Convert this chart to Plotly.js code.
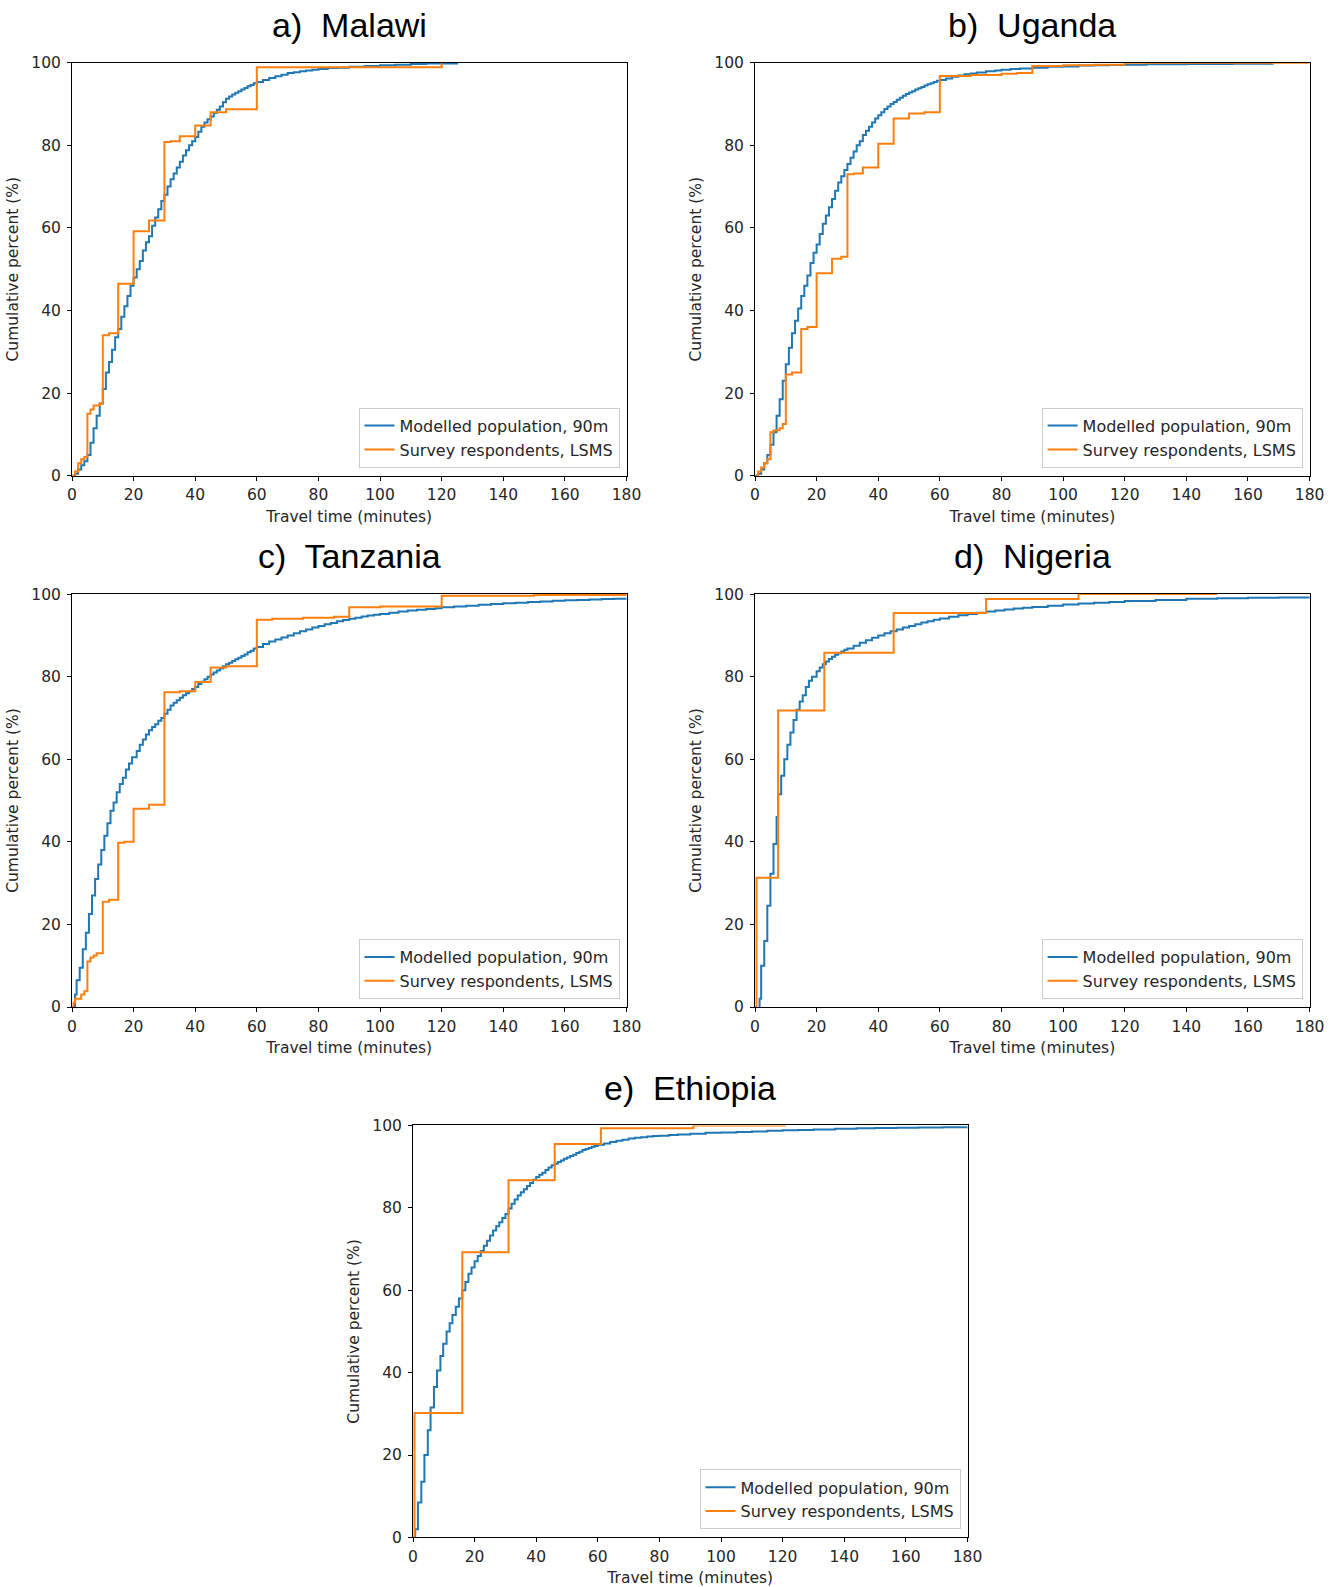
<!DOCTYPE html>
<html>
<head>
<meta charset="utf-8">
<script src="https://cdn.plot.ly/plotly-3.0.1.min.js"></script>
<style>html,body{margin:0;padding:0;background:#fff;}#chart{width:1338px;height:1587px;}</style>
</head>
<body>
<div id="chart"></div>
<script>
// ---------------- Data ----------------
const panelTitles = ["a)  Malawi", "b)  Uganda", "c)  Tanzania", "d)  Nigeria", "e)  Ethiopia"];
const seriesNames = ["Modelled population, 90m", "Survey respondents, LSMS"];
const xTickVals = [0, 20, 40, 60, 80, 100, 120, 140, 160, 180];
const yTickVals = [0, 20, 40, 60, 80, 100];

// Malawi
const malawiModelMin = [0,1,2,3,4,5,6,7,8,9,10,11,12,13,14,15,16,17,18,19,20,21,22,23,24,25,26,27,28,29,30,31,32,33,34,35,36,37,38,39,40,41,42,43,44,45,46,47,48,49,50,51,52,53,54,55,56,57,58,59,60,62,64,66,68,70,72,74,76,78,80,83,86,90,95,100,105,110,115,125];
const malawiModelPct = [0,0.5,1.5,2.5,3.5,5,8,11.5,14.5,17.5,21,25,27.5,30.5,33.5,35.5,38.5,41,43.5,46,48,50,52,54.5,56.5,58,60.5,62.5,64.5,66.5,68,70,71.8,73.2,74.6,76,77.5,78.8,80,81,82,83.3,84.5,85.5,86.3,87,87.8,88.6,89.4,90.4,91.3,91.8,92.3,92.7,93.1,93.5,93.9,94.3,94.6,95,95.3,95.8,96.3,96.7,97.1,97.5,97.7,97.9,98.1,98.3,98.5,98.7,98.8,99,99.2,99.4,99.5,99.7,99.8,99.9];
const malawiSurveyMin = [0,1,2,3,4,5,6,7,9,10,12,15,20,25,30,32,35,40,45,50,60,120];
const malawiSurveyPct = [0,1,3,4,4.5,15,16,17,17.5,34,34.5,46.5,59.2,61.8,80.8,81,82.2,84.8,88,88.7,98.9,100];

// Uganda
const ugandaModelMin = [0,1,2,3,4,5,6,7,8,9,10,11,12,13,14,15,16,17,18,19,20,21,22,23,24,25,26,27,28,29,30,31,32,33,34,35,36,37,38,39,40,41,42,43,44,45,46,47,48,49,50,51,52,53,54,55,56,57,58,59,60,62,64,66,68,70,72,75,78,80,83,86,90,95,100,105,110,115,120,127,140,155,168];
const ugandaModelPct = [0,0.5,1.5,3,5,7.5,10.5,14.5,18.5,23,27,31,34.5,37.5,40.5,43.5,46,48.5,51.5,54,56,58.5,61,63,65,67,69,71,72.5,74,75.5,77,78.5,80,81,82.5,83.5,84.5,85.5,86.5,87.3,88,88.8,89.4,90,90.5,91,91.5,92,92.4,92.8,93.1,93.5,93.8,94.1,94.5,94.8,95,95.3,95.6,95.8,96.2,96.6,96.9,97.2,97.4,97.6,97.9,98.1,98.3,98.5,98.6,98.8,99,99.1,99.3,99.4,99.45,99.5,99.6,99.7,99.75,99.8];
const ugandaSurveyMin = [0,1,2,3,4,5,6,8,9,10,12,15,17,20,25,28,30,32,35,40,45,50,55,60,70,80,85,90,100,110,120,180];
const ugandaSurveyPct = [0,1,2,3,4,10.5,11,11.5,12.5,24.5,25,35.5,36,49,52.5,53,73,73.2,74.6,80.4,86.5,87.7,88,96.8,97,97.3,97.5,99.2,99.4,99.5,100,100];

// Tanzania
const tanzaniaModelMin = [0,1,1.5,2.5,3.5,4.5,5.5,6.5,7.5,8.5,9.5,10.5,11.5,12.5,13.5,14.5,15.5,16.5,17.5,18.5,19.5,21,22,23,24,25,26,27,28,29,30,31,32,33,34,35,36,37,38,39,40,41,42,43,44,45,46,47,48,49,50,51,52,53,54,55,56,57,58,59,60,62,64,66,68,70,72,74,76,78,80,82,84,86,88,90,92,94,96,98,100,103,106,109,112,115,118,120,124,128,132,136,140,144,148,152,156,160,164,168,172,176,180];
const tanzaniaModelPct = [0,3,6.5,9.5,14,18,22.5,27,31,34.5,38,41.5,44.5,47.5,49.5,52,54,55.5,57.5,59,60.5,62,63.5,64.8,66,67,67.8,68.5,69.3,70,71,72,73,73.7,74.3,74.9,75.5,76,76.5,77,77.5,78.2,78.8,79.4,80,80.5,81,81.5,82,82.5,83,83.4,83.8,84.2,84.6,85,85.4,85.9,86.3,86.8,87.2,87.9,88.5,89,89.5,90,90.5,91,91.4,91.9,92.3,92.7,93,93.4,93.7,94,94.3,94.6,94.8,95,95.2,95.5,95.8,96,96.2,96.4,96.6,96.8,97,97.2,97.4,97.6,97.8,97.9,98.1,98.2,98.4,98.5,98.6,98.7,98.8,98.9,99];
const tanzaniaSurveyMin = [0,0.5,1,3,4,5,6,7,8,10,12,15,17,20,25,30,35,40,45,50,60,65,75,85,90,100,120,150,180];
const tanzaniaSurveyPct = [0,1,2,3,3.8,11,12,12.5,13,25.5,26,39.8,40,48,49,76.2,76.5,78.7,82.2,82.5,93.8,94,94.3,94.5,96.8,97,99.6,99.8,100];

// Nigeria
const nigeriaModelMin = [1.3,1.5,2,3,4,5,6,7,7.5,8.5,9.5,10.5,11.5,12.5,13.5,14.5,15.5,16.5,17.5,18.5,20,21,22,23,24,25,26,27,28,29,30,32,34,36,38,40,42,44,46,48,50,52,54,56,58,60,63,66,69,72,75,78,81,84,87,90,95,100,105,110,115,120,130,140,150,160,170,180];
const nigeriaModelPct = [0,2,10,16,24.5,32.3,39.5,46,51.5,56,60,63.5,66.5,69.5,72,74,75.5,77.5,79,80,81.3,82.2,83,83.7,84.3,84.8,85.3,85.7,86.1,86.5,86.8,87.5,88.2,88.8,89.4,90,90.5,91,91.4,91.9,92.3,92.7,93.1,93.4,93.8,94.1,94.5,94.9,95.2,95.5,95.8,96,96.3,96.5,96.7,96.9,97.2,97.5,97.7,97.9,98.1,98.3,98.6,98.9,99,99.1,99.2,99.3];
const nigeriaSurveyMin = [0,0.5,7.5,22.5,45,75,105,150];
const nigeriaSurveyPct = [0,31.3,71.8,85.8,95.4,98.8,100,100];

// Ethiopia
const ethiopiaModelMin = [0.5,0.7,1.6,2.7,3.7,4.8,5.7,6.8,7.8,8.9,9.8,10.9,11.9,12.8,13.9,14.9,16,17,18,19,20,21,22,23,24,25,26,27,28,29,30,31,32,33,34,35,36,37,38,39,40,41,42,43,44,45,46,47,48,49,50,51,52,53,54,55,56,57,58,59,60,62,64,66,68,70,72,74,76,78,80,83,86,90,95,100,105,110,115,120,125,130,137,144,150,157,164,172,180];
const ethiopiaModelPct = [0,2,8.5,13.5,20,26,31.5,36.5,40.5,44,47,50,52,54,56,58,60,62,64,65.5,67,68.3,69.5,70.8,72,73.3,74.5,75.5,76.5,77.5,78.5,79.8,81,82,83,83.8,84.5,85.3,86,86.8,87.5,88,88.5,89.2,89.8,90.3,90.7,91.1,91.5,91.9,92.2,92.6,92.9,93.3,93.6,94,94.3,94.5,94.8,95,95.3,95.6,96,96.3,96.5,96.8,97,97.1,97.3,97.4,97.5,97.7,97.8,98,98.2,98.3,98.4,98.5,98.7,98.8,98.9,99,99.2,99.3,99.35,99.4,99.5,99.55,99.6];
const ethiopiaSurveyMin = [0,0.5,16,31,46,61,91,121];
const ethiopiaSurveyPct = [0,30.2,69.2,86.7,95.5,99.3,100,100];

// ---------------- Build ----------------
const W = 1338, H = 1587;
const panels = [
  {mx: malawiModelMin,   my: malawiModelPct,   sx: malawiSurveyMin,   sy: malawiSurveyPct,   x0: 72,  x1: 626.5,  y0: 62.7,   y1: 475.7,  ty: 25.3},
  {mx: ugandaModelMin,   my: ugandaModelPct,   sx: ugandaSurveyMin,   sy: ugandaSurveyPct,   x0: 755, x1: 1309.6, y0: 62.7,   y1: 475.7,  ty: 25.3},
  {mx: tanzaniaModelMin, my: tanzaniaModelPct, sx: tanzaniaSurveyMin, sy: tanzaniaSurveyPct, x0: 72,  x1: 626.5,  y0: 594.1,  y1: 1007.0, ty: 555.6},
  {mx: nigeriaModelMin,  my: nigeriaModelPct,  sx: nigeriaSurveyMin,  sy: nigeriaSurveyPct,  x0: 755, x1: 1309.6, y0: 594.1,  y1: 1007.0, ty: 555.6},
  {mx: ethiopiaModelMin, my: ethiopiaModelPct, sx: ethiopiaSurveyMin, sy: ethiopiaSurveyPct, x0: 413, x1: 967.5,  y0: 1125.4, y1: 1537.4, ty: 1088}
];

const tickFont = {family: "DejaVu Sans", size: 15.5, color: "#262626"};
const data = [];
const layout = {
  width: W, height: H,
  margin: {l: 0, r: 0, t: 0, b: 0},
  paper_bgcolor: "#ffffff",
  plot_bgcolor: "#ffffff",
  showlegend: true,
  annotations: []
};

panels.forEach((p, i) => {
  const n = i + 1;
  const xa = n === 1 ? "xaxis" : "xaxis" + n;
  const ya = n === 1 ? "yaxis" : "yaxis" + n;
  const xr = n === 1 ? "x" : "x" + n;
  const yr = n === 1 ? "y" : "y" + n;
  const lg = n === 1 ? "legend" : "legend" + n;
  data.push({
    x: p.mx, y: p.my, xaxis: xr, yaxis: yr, type: "scatter", mode: "lines",
    name: seriesNames[0], legend: lg,
    line: {color: "#1f77b4", width: 2, shape: "hv"}
  });
  data.push({
    x: p.sx, y: p.sy, xaxis: xr, yaxis: yr, type: "scatter", mode: "lines",
    name: seriesNames[1], legend: lg,
    line: {color: "#ff7f0e", width: 2, shape: "hv"}
  });
  const xd = [p.x0 / W, p.x1 / W];
  const yd = [1 - p.y1 / H, 1 - p.y0 / H];
  layout[xa] = {
    domain: xd, anchor: yr, range: [0, 180],
    tickvals: xTickVals, ticks: "outside", ticklen: 4, tickcolor: "#000",
    ticklabelstandoff: 1,
    showline: true, mirror: true, linecolor: "#000", linewidth: 1,
    showgrid: false, zeroline: false, tickfont: tickFont,
    title: {text: "Travel time (minutes)", font: tickFont, standoff: 7}
  };
  layout[ya] = {
    domain: yd, anchor: xr, range: [0, 100],
    tickvals: yTickVals, ticks: "outside", ticklen: 4, tickcolor: "#000",
    ticklabelstandoff: 3,
    showline: true, mirror: true, linecolor: "#000", linewidth: 1,
    showgrid: false, zeroline: false, tickfont: tickFont,
    title: {text: "Cumulative percent (%)", font: tickFont, standoff: 8}
  };
  layout[lg] = {
    x: (p.x1 - 7) / W, y: 1 - (p.y1 - 8) / H,
    xanchor: "right", yanchor: "bottom",
    bgcolor: "rgba(255,255,255,0.85)", bordercolor: "#cccccc", borderwidth: 1,
    font: {family: "DejaVu Sans", size: 16, color: "#262626"},
    tracegroupgap: 0
  };
  layout.annotations.push({
    text: panelTitles[i], xref: "paper", yref: "paper",
    x: (p.x0 + p.x1) / 2 / W, y: 1 - p.ty / H,
    xanchor: "center", yanchor: "middle", showarrow: false,
    font: {family: "Liberation Sans", size: 34, color: "#000"}
  });
});

Plotly.newPlot("chart", data, layout, {displayModeBar: false, staticPlot: true});
</script>
</body>
</html>
